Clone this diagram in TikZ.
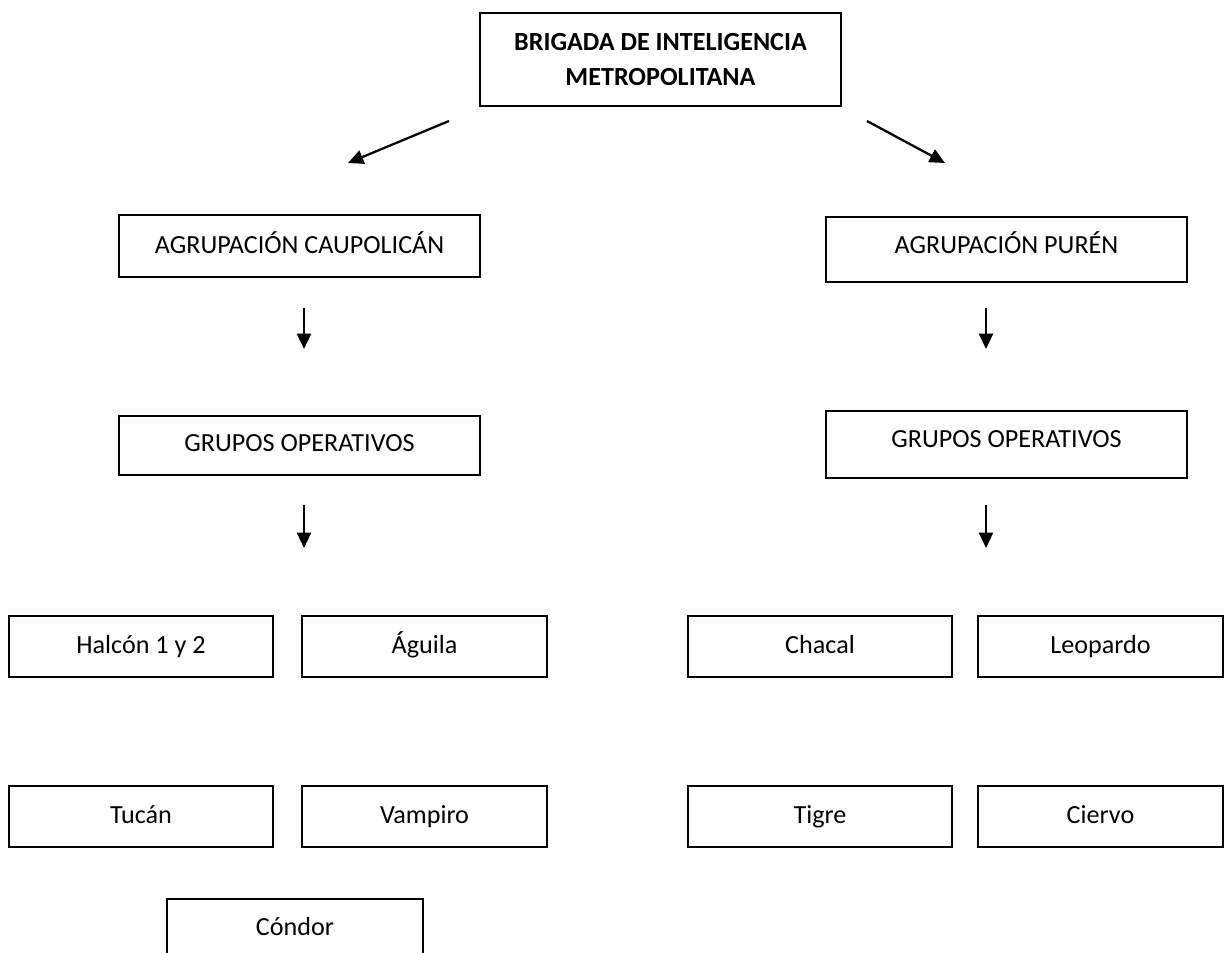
\documentclass[tikz,border=0pt]{standalone}
\usepackage{fontspec}
\setmainfont{Carlito}
\usetikzlibrary{arrows.meta}
\begin{document}
\begin{tikzpicture}[x=0.75pt,y=-0.75pt,
  boxbase/.style={draw=black,line width=1.4pt,inner sep=0pt,align=center,
    font=\fontsize{19.6}{26.25}\selectfont},
  box/.style={boxbase,text height=12.6pt,text depth=2.25pt},
  arr/.style={line width=1.7pt,-{Triangle[length=11.5pt,width=10.5pt]}}]
\useasboundingbox (0,0) rectangle (1229,953);
% top
\node[boxbase,minimum width=361*0.75pt,minimum height=93*0.75pt,font=\fontsize{19.6}{26.25}\selectfont\bfseries]
  (bim) at (660.5,59.5) {BRIGADA DE INTELIGENCIA\\METROPOLITANA};
% left column
\node[box,minimum width=361*0.75pt,minimum height=62*0.75pt,text depth=1.5pt] (cau) at (299.5,246) {AGRUPACIÓN CAUPOLICÁN};
\node[box,minimum width=361*0.75pt,minimum height=59*0.75pt,text depth=3.75pt] (gol) at (299.5,445.5) {GRUPOS OPERATIVOS};
% right column
\node[box,minimum width=361*0.75pt,minimum height=65*0.75pt,text depth=6.75pt] (pur) at (1006.5,249.5) {AGRUPACIÓN PURÉN};
\node[box,minimum width=361*0.75pt,minimum height=67*0.75pt,text depth=8.25pt] (gor) at (1006.5,444.5) {GRUPOS OPERATIVOS};
% left groups
\node[box,minimum width=264*0.75pt,minimum height=61*0.75pt] (hal) at (141,646.5) {Halcón 1 y 2};
\node[box,minimum width=245*0.75pt,minimum height=61*0.75pt] (agu) at (424.5,646.5) {Águila};
\node[box,minimum width=264*0.75pt,minimum height=61*0.75pt] (tuc) at (141,816.5) {Tucán};
\node[box,minimum width=245*0.75pt,minimum height=61*0.75pt] (vam) at (424.5,816.5) {Vampiro};
\node[box,minimum width=256*0.75pt,minimum height=61*0.75pt,text depth=3.75pt] (con) at (295,929.5) {Cóndor};
% right groups
\node[box,minimum width=264*0.75pt,minimum height=61*0.75pt] (cha) at (820,646.5) {Chacal};
\node[box,minimum width=245*0.75pt,minimum height=61*0.75pt] (leo) at (1100.5,646.5) {Leopardo};
\node[box,minimum width=264*0.75pt,minimum height=61*0.75pt] (tig) at (820,816.5) {Tigre};
\node[box,minimum width=245*0.75pt,minimum height=61*0.75pt] (cie) at (1100.5,816.5) {Ciervo};
% arrows (free-standing)
\coordinate (a1s) at (449,121); \coordinate (a1e) at (348,163);
\coordinate (a2s) at (867,121); \coordinate (a2e) at (945,163);
\coordinate (a3s) at (304,308); \coordinate (a3e) at (304,349);
\coordinate (a4s) at (304,505); \coordinate (a4e) at (304,548);
\coordinate (a5s) at (986,308); \coordinate (a5e) at (986,349);
\coordinate (a6s) at (986,505); \coordinate (a6e) at (986,548);
\draw[arr] (a1s) -- (a1e);
\draw[arr] (a2s) -- (a2e);
\draw[arr] (a3s) -- (a3e);
\draw[arr] (a4s) -- (a4e);
\draw[arr] (a5s) -- (a5e);
\draw[arr] (a6s) -- (a6e);
\end{tikzpicture}
\end{document}
